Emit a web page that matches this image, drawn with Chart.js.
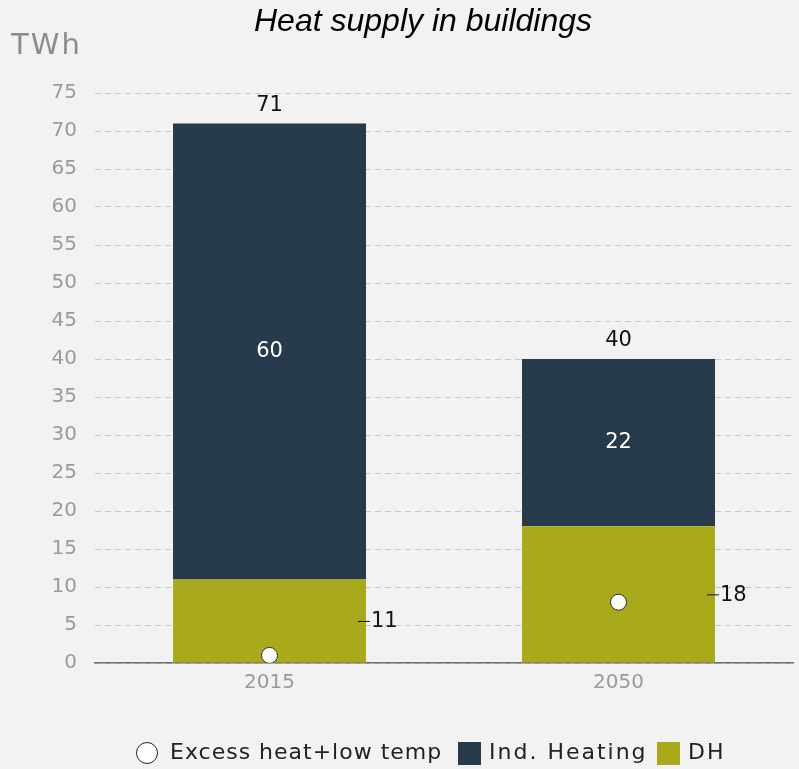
<!DOCTYPE html>
<html>
<head>
<meta charset="utf-8">
<script src="https://cdn.jsdelivr.net/npm/chart.js@4"></script>
<style>
  html, body { margin: 0; padding: 0; background: #f2f2f2; }
  #wrap { width: 799px; height: 769px; position: relative; }
</style>
</head>
<body>
<div id="wrap"><canvas id="heatChart" width="799" height="769"></canvas></div>
<script>
// data
const years = ["2015", "2050"];
const excessHeat = [1, 8];
const indHeating = [60, 22];
const districtHeating = [11, 18];
const yTicks = [0, 5, 10, 15, 20, 25, 30, 35, 40, 45, 50, 55, 60, 65, 70, 75];

const darkBlue = "#263a4c";
const olive = "#a8a91b";
const font = "'DejaVu Sans', sans-serif";

// labels, legend and title drawn on top of the chart
const labelPlugin = {
    id: "labelPlugin",
    afterDraw(chart) {
        const ctx = chart.ctx;
        const indMeta = chart.getDatasetMeta(1);
        const dhMeta = chart.getDatasetMeta(2);
        ctx.save();

        // title and unit
        ctx.fillStyle = "#000";
        ctx.font = "italic 32px 'Liberation Sans', Arial, sans-serif";
        ctx.textAlign = "center";
        ctx.textBaseline = "middle";
        ctx.fillText("Heat supply in buildings", 423, 22);

        ctx.fillStyle = "#8c8c8c";
        ctx.font = "29px " + font;
        ctx.textAlign = "left";
        ctx.letterSpacing = "2px";
        ctx.fillText("TWh", 11, 46);
        ctx.letterSpacing = "0px";

        // numbers on the bars
        indMeta.data.forEach((bar, i) => {
            ctx.font = "21px " + font;
            ctx.textAlign = "center";
            ctx.fillStyle = "#ffffff";
            ctx.fillText(String(indHeating[i]), bar.x, (bar.y + bar.base) / 2);
            ctx.fillStyle = "#111";
            ctx.fillText(String(indHeating[i] + districtHeating[i]), bar.x, bar.y - 18);
        });

        dhMeta.data.forEach((bar, i) => {
            const edge = bar.x + bar.width / 2;
            const midY = (bar.y + bar.base) / 2;
            ctx.strokeStyle = "#111";
            ctx.lineWidth = 1;
            ctx.beginPath();
            ctx.moveTo(edge - 8, midY + 0.5);
            ctx.lineTo(edge + 4, midY + 0.5);
            ctx.stroke();
            ctx.fillStyle = "#111";
            ctx.font = "21px " + font;
            ctx.textAlign = "left";
            ctx.fillText(String(districtHeating[i]), edge + 5, midY + 1);
        });

        // legend, one entry per dataset
        const legendY = 753;
        const legendX = [137, 458, 657];
        ctx.font = "22px " + font;
        ctx.textAlign = "left";
        chart.data.datasets.forEach((ds, d) => {
            const x = legendX[d];
            if (d === 0) {
                ctx.fillStyle = "#ffffff";
                ctx.strokeStyle = "#222";
                ctx.lineWidth = 1;
                ctx.beginPath();
                ctx.arc(x + 10, legendY, 10.5, 0, Math.PI * 2);
                ctx.fill();
                ctx.stroke();
            } else {
                ctx.fillStyle = ds.backgroundColor;
                ctx.fillRect(x, legendY - 11, 23, 23);
            }
            ctx.fillStyle = "#222";
            ctx.letterSpacing = d === 0 ? "1px" : "2px";
            ctx.fillText(ds.label, x + (d === 0 ? 33 : 31), legendY);
        });

        ctx.restore();
    }
};

const ctx = document.getElementById("heatChart").getContext("2d");
new Chart(ctx, {
    data: {
        labels: years,
        datasets: [
            {
                type: "line",
                label: "Excess heat+low temp",
                data: excessHeat,
                showLine: false,
                pointRadius: 8,
                pointHoverRadius: 8,
                pointBackgroundColor: "#ffffff",
                pointBorderColor: "#333",
                pointBorderWidth: 1,
                order: 0
            },
            {
                type: "bar",
                label: "Ind. Heating",
                data: indHeating,
                backgroundColor: darkBlue,
                stack: "heat",
                order: 2
            },
            {
                type: "bar",
                label: "DH",
                data: districtHeating,
                backgroundColor: olive,
                stack: "heat",
                order: 1
            }
        ]
    },
    options: {
        responsive: false,
        animation: false,
        layout: { autoPadding: false, padding: { top: 93, bottom: 66, left: 0, right: 6 } },
        datasets: { bar: { barPercentage: 0.553, categoryPercentage: 1 } },
        plugins: {
            legend: { display: false },
            title: { display: false },
            tooltip: { enabled: false }
        },
        scales: {
            x: {
                stacked: true,
                grid: { display: false, drawTicks: false },
                border: { display: true, color: "#6e6e6e", width: 1.5 },
                ticks: { color: "#9a9a9a", font: { family: font, size: 20 }, padding: 8 },
                afterFit: (s) => { s.height = 40; }
            },
            y: {
                stacked: true,
                min: 0,
                max: 75,
                afterBuildTicks: (s) => { s.ticks = yTicks.map(v => ({ value: v })); },
                grid: { color: "#c9c9c9", drawTicks: false, lineWidth: 1 },
                border: { display: false, dash: [6, 4] },
                ticks: { color: "#9a9a9a", font: { family: font, size: 20 }, padding: 18 },
                afterFit: (s) => { s.width = 95; }
            }
        }
    },
    plugins: [labelPlugin]
});
</script>
</body>
</html>
